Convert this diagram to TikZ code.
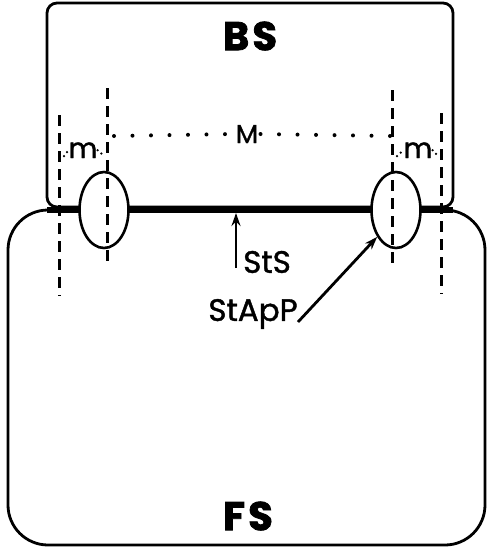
\documentclass[tikz,border=0pt]{standalone}
\usepackage{fontspec}
\setmainfont{Poppins}
\newfontfamily\lblfont[FakeBold=1.3]{Poppins}
\usetikzlibrary{arrows.meta,shapes.geometric}
\begin{document}
\begin{tikzpicture}[x=1pt,y=-1pt,
  outline/.style={line width=2.8pt},
  dashline/.style={line width=3pt, dash pattern=on 11pt off 7pt},
  bigdots/.style={line width=4pt, line cap=round, dash pattern=on 0pt off 18.5pt},
  smalldots/.style={line width=2.5pt, line cap=round, dash pattern=on 0pt off 5pt},
  seal/.style={ellipse, draw, line width=2.6pt, fill=white, minimum width=49pt, minimum height=76pt, inner sep=0pt},
  ptr/.style={line width=2.8pt, -{Stealth[length=13pt,width=9pt]}},
  lbl/.style={font=\lblfont\fontsize{31}{33}\selectfont, inner sep=0pt},
  big/.style={font=\bfseries\addfontfeature{FakeBold=2,LetterSpace=8}\fontsize{40}{42}\selectfont, inner sep=0pt}]
\useasboundingbox (0,0) rectangle (488,547);
% FS box
\draw[outline, rounded corners=40pt] (8,210) rectangle (485,545);
% BS box
\draw[outline, rounded corners=10pt] (47,3) rectangle (453,207);
% thick junction line
\coordinate (jl) at (47,210);
\coordinate (jr) at (453,210);
\draw[line width=6pt] (jl) -- (jr);
% seals
\node[seal] (sl) at (104,210) {};
\node[seal] (sr) at (396,210) {};
% dashed lines
\coordinate (d1a) at (59,115); \coordinate (d1b) at (59,296);
\coordinate (d2a) at (107,88); \coordinate (d2b) at (107,268);
\coordinate (d3a) at (392,90); \coordinate (d3b) at (392,268);
\coordinate (d4a) at (441,113); \coordinate (d4b) at (441,294);
\draw[dashline] (d1a) -- (d1b);
\draw[dashline] (d2a) -- (d2b);
\draw[dashline] (d3a) -- (d3b);
\draw[dashline] (d4a) -- (d4b);
% M dotted
\node[lbl, font=\lblfont\fontsize{26}{28}\selectfont, fill=white, inner sep=1pt] (M) at (247,134) {M};
\coordinate (ma) at (114,136); \coordinate (mb) at (390,136);
\draw[bigdots] (ma) -- (M.west);
\draw[bigdots] (mb) -- (M.east);
\node[lbl, font=\lblfont\fontsize{28}{30}\selectfont, anchor=base] (ml) at (83,158) {m};
\node[lbl, font=\lblfont\fontsize{28}{30}\selectfont, anchor=base] (mr) at (418,158) {m};
\draw[smalldots] (64,156) -- (ml.west);
\draw[smalldots] (ml.east) -- (104,156);
\draw[smalldots] (397,156) -- (mr.west);
\draw[smalldots] (mr.east) -- (438,156);
% labels
\node[big] (BS) at (250,36) {BS};
\node[big] (FS) at (248,516) {FS};
\node[lbl, anchor=west] (StS) at (243,262) {StS};
\node[lbl] (StApP) at (253,314) {StApP};
\coordinate (stsfoot) at (236,268);
\coordinate (stshead) at (236,213);
\coordinate (sastart) at (298,322);
\draw[ptr] (stsfoot) -- (stshead);
\draw[ptr] (sastart) -- (sr.235);
\end{tikzpicture}
\end{document}
